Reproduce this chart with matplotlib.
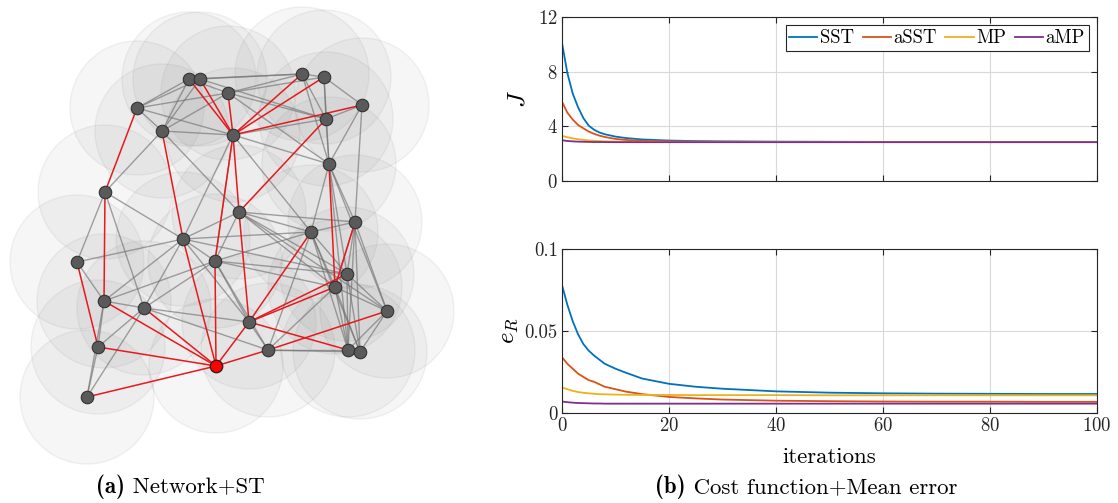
import numpy as np
import matplotlib
matplotlib.use("Agg")
import matplotlib.pyplot as plt
from matplotlib.patches import Circle

plt.rcParams['font.family'] = ['cmr10', 'DejaVu Serif']
plt.rcParams['mathtext.fontset'] = 'cm'
plt.rcParams['axes.formatter.use_mathtext'] = True

# ---- network data (node positions in picture units) ----
node_x = [189, 200, 302, 324, 228, 137, 362, 326, 162, 233,
          329, 105, 239, 355, 311, 183, 77, 215, 347, 335,
          104, 144, 387, 249, 98, 268, 348, 360, 216, 87]
node_y = [79, 79, 74, 77, 93, 108, 105, 119, 131, 135,
          164, 192, 212, 222, 232, 239, 262, 261, 274, 287,
          301, 308, 311, 322, 347, 350, 350, 352, 366, 397]
root = 28
sensing_radius = 67

tree_edges = [(28, 29), (28, 24), (28, 20), (28, 21), (28, 15), (28, 17), (28, 23),
              (28, 25), (25, 22), (24, 16), (20, 11), (11, 5), (15, 8), (17, 9),
              (9, 0), (9, 1), (9, 4), (9, 2), (9, 3), (9, 6), (12, 9), (12, 7),
              (12, 23), (23, 14), (23, 18), (23, 19), (23, 26), (19, 10), (19, 13)]

graph_edges = [(0, 2), (1, 2), (2, 3), (0, 5), (1, 5), (5, 4), (5, 9), (5, 8),
               (8, 9), (8, 0), (8, 1), (8, 4), (4, 2), (4, 3), (4, 7), (4, 10),
               (1, 7), (2, 7), (3, 7), (3, 6), (2, 10), (3, 10), (6, 7), (6, 10),
               (6, 13), (7, 10), (9, 10), (9, 7), (8, 11), (9, 15), (8, 12),
               (9, 14), (9, 17), (10, 14), (10, 13), (10, 22), (10, 18), (0, 4),
               (11, 15), (11, 16), (11, 21), (16, 15), (16, 20), (20, 15), (20, 17),
               (20, 21), (21, 15), (21, 17), (21, 23), (15, 12), (15, 17), (15, 14),
               (15, 23), (17, 12), (17, 14), (17, 23), (17, 19), (17, 18), (12, 13),
               (12, 14), (12, 19), (12, 18), (12, 22), (14, 13), (14, 19), (14, 18),
               (14, 26), (14, 27), (14, 25), (13, 18), (13, 19), (13, 22), (13, 26),
               (13, 27), (10, 26), (17, 25), (18, 22), (19, 22), (19, 25), (18, 26),
               (18, 27), (19, 26), (19, 27), (23, 25), (15, 18), (20, 24), (24, 29),
               (21, 29), (21, 24), (21, 25), (25, 26), (25, 27), (26, 22), (27, 22),
               (26, 27), (20, 29)]

# ---- convergence data ----
iters = [0, 1, 2, 3, 4, 5, 6, 7, 8, 10, 12, 15, 20, 25, 30, 40, 50, 60, 70, 80, 90, 100]
J_sst = [10.1, 7.9, 6.4, 5.4, 4.6, 4.05, 3.75, 3.55, 3.42, 3.25, 3.14, 3.04, 2.96,
         2.92, 2.9, 2.88, 2.87, 2.86, 2.86, 2.85, 2.85, 2.85]
J_asst = [5.8, 5.0, 4.5, 4.1, 3.85, 3.62, 3.45, 3.32, 3.22, 3.08, 3.0, 2.94, 2.9,
          2.88, 2.87, 2.86, 2.85, 2.85, 2.85, 2.85, 2.85, 2.85]
J_mp = [3.3, 3.2, 3.12, 3.06, 3.01, 2.97, 2.94, 2.92, 2.9, 2.88, 2.87, 2.86, 2.85,
        2.85, 2.85, 2.85, 2.85, 2.85, 2.85, 2.85, 2.85, 2.85]
J_amp = [2.98, 2.93, 2.9, 2.88, 2.87, 2.86, 2.85, 2.85, 2.85, 2.84, 2.84, 2.84, 2.84,
         2.84, 2.84, 2.84, 2.84, 2.84, 2.84, 2.84, 2.84, 2.84]

e_sst = [0.078, 0.066, 0.056, 0.048, 0.042, 0.038, 0.035, 0.0325, 0.030, 0.027, 0.0245,
         0.021, 0.0178, 0.016, 0.0148, 0.0132, 0.0124, 0.012, 0.0118, 0.0117, 0.0116, 0.0116]
e_asst = [0.034, 0.030, 0.027, 0.024, 0.022, 0.020, 0.019, 0.0175, 0.016, 0.0145, 0.013,
          0.0115, 0.0098, 0.0089, 0.0082, 0.0075, 0.0072, 0.0070, 0.0069, 0.0069, 0.0068, 0.0068]
e_mp = [0.0156, 0.0145, 0.0135, 0.0128, 0.0123, 0.012, 0.0117, 0.0115, 0.0114, 0.0112,
        0.0111, 0.011, 0.011, 0.0109, 0.0109, 0.0109, 0.0108, 0.0108, 0.0108, 0.0108, 0.0108, 0.0108]
e_amp = [0.0070, 0.0066, 0.0063, 0.0061, 0.0060, 0.0059, 0.0058, 0.0058, 0.0057, 0.0057,
         0.0057, 0.0057, 0.0057, 0.0057, 0.0057, 0.0057, 0.0057, 0.0057, 0.0057, 0.0057, 0.0057, 0.0057]

labels = ['SST', 'aSST', 'MP', 'aMP']
colors = ['#0072BD', '#D95319', '#EDB120', '#7E2F8E']
captions = [('(a)', 'Network+ST'), ('(b)', 'Cost function+Mean error')]

W, H = 1118, 503
fig = plt.figure(figsize=(W / 100, H / 100), dpi=100)

# ---- (a) network ----
axn = fig.add_axes([0, (H - 470) / H, 460 / W, 470 / H])
axn.set_xlim(0, 460)
axn.set_ylim(470, 0)
axn.set_aspect('equal')
axn.axis('off')

for x, y in zip(node_x, node_y):
    axn.add_patch(Circle((x, y), sensing_radius, facecolor=(0.5, 0.5, 0.5, 0.07),
                         edgecolor=(0.5, 0.5, 0.5, 0.10), lw=1.0, zorder=1))

for i, j in graph_edges:
    axn.plot([node_x[i], node_x[j]], [node_y[i], node_y[j]], color='0.45',
             alpha=0.65, lw=1.0, zorder=2)
for i, j in tree_edges:
    axn.plot([node_x[i], node_x[j]], [node_y[i], node_y[j]], color='#e8191c',
             lw=1.1, zorder=3)

others = [k for k in range(len(node_x)) if k != root]
axn.plot([node_x[k] for k in others], [node_y[k] for k in others], 'o', ms=9,
         mfc='#5a5a5a', mec='#333333', mew=0.8, zorder=4)
axn.plot(node_x[root], node_y[root], 'o', ms=9, mfc='#ff0000', mec='#222222',
         mew=0.9, zorder=5)

# ---- (b) cost function and mean error ----
left, width = 562 / W, 535 / W
ax1 = fig.add_axes([left, (H - 181) / H, width, 164 / H])
ax2 = fig.add_axes([left, (H - 413) / H, width, 164 / H])

for ys, lab, c in zip([J_sst, J_asst, J_mp, J_amp], labels, colors):
    ax1.plot(iters, ys, color=c, lw=1.3, label=lab)
for ys, c in zip([e_sst, e_asst, e_mp, e_amp], colors):
    ax2.plot(iters, ys, color=c, lw=1.3)

ax1.set_ylim(0, 12)
ax1.set_yticks([0, 4, 8, 12])
ax1.set_xticklabels([])
ax2.set_ylim(0, 0.1)
ax2.set_yticks([0, 0.05, 0.1])
ax2.set_yticklabels(['0', '0.05', '0.1'])
ax2.set_xlabel('iterations', fontsize=16.5, labelpad=9)
ax1.set_ylabel('$J$', fontsize=18, labelpad=6)
ax2.set_ylabel('$e_R$', fontsize=18, labelpad=3)

for ax in (ax1, ax2):
    ax.set_xlim(0, 100)
    ax.set_xticks([0, 20, 40, 60, 80, 100])
    ax.grid(True, color='0.85', lw=0.8)
    ax.set_axisbelow(True)
    ax.tick_params(direction='in', top=True, right=True, labelsize=13.5,
                   colors='0.15', length=4, pad=3)
    for s in ax.spines.values():
        s.set_color('0.15')
        s.set_linewidth(0.8)

leg = ax1.legend(loc='upper right', ncol=4, fontsize=13.5, frameon=True, fancybox=False,
                 edgecolor='0.15', framealpha=1, handlelength=1.5, handletextpad=0.15,
                 columnspacing=0.45, borderpad=0.2, borderaxespad=0.45)
leg.get_frame().set_linewidth(0.8)

# captions: bold tag + regular text, centred as a whole
renderer = fig.canvas.get_renderer()
for (tag, txt), cx in zip(captions, [180, 806]):
    y = 1 - 487 / H
    t1 = fig.text(0, y, tag, family='cmb10', fontsize=16.5, va='center')
    t2 = fig.text(0, y, ' ' + txt, family='cmr10', fontsize=16.5, va='center')
    w1 = t1.get_window_extent(renderer).width
    w2 = t2.get_window_extent(renderer).width
    x0 = cx - (w1 + w2) / 2
    t1.set_x(x0 / W)
    t2.set_x((x0 + w1) / W)

fig.savefig('out.png', dpi=100)
